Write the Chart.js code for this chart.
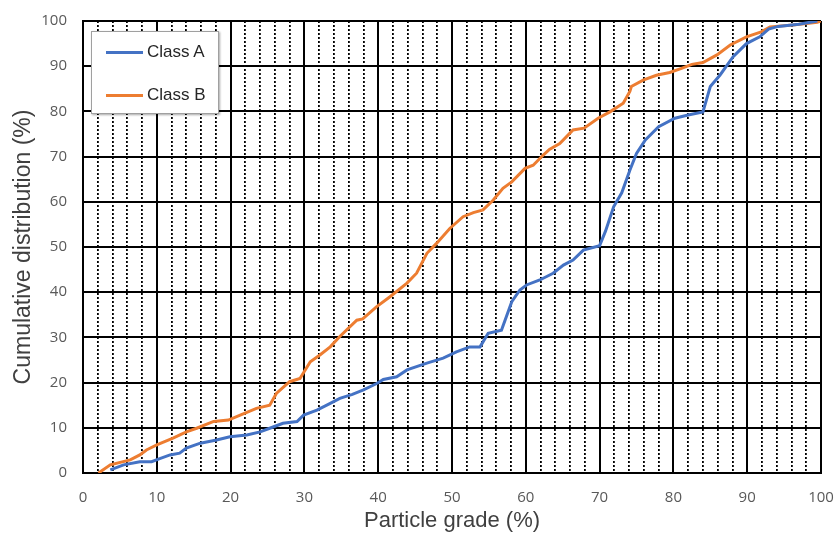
<!DOCTYPE html>
<html>
<head>
<meta charset="utf-8">
<title>Cumulative distribution by particle grade</title>
<script src="https://cdn.jsdelivr.net/npm/chart.js@4/dist/chart.umd.min.js"></script>
<style>
  html, body { margin: 0; padding: 0; background: #fff; }
  #wrap { position: relative; width: 837px; height: 534px; }
  #legend {
    position: absolute; left: 91px; top: 31px; width: 126px; height: 81px;
    background: #fff; border: 1px solid #a0a0a0;
    box-shadow: 1px 1px 2px rgba(0,0,0,0.35);
    font-family: "Liberation Sans", Arial, sans-serif; font-size: 17px; color: #262626;
  }
  #legend .row { position: absolute; left: 14px; height: 20px; display: flex; align-items: center; }
  #legend .swatch { width: 37px; height: 3px; margin-right: 4px; }
</style>
</head>
<body>
<div id="wrap">
  <canvas id="chart" width="837" height="534"></canvas>
  <div id="legend"></div>
</div>
<script>
// Class A: particle grade (%) vs cumulative distribution (%)
const classAGrade = [3.7, 5.5, 7.7, 9.3, 10.4, 11.8, 13.1, 14.0, 15.9, 18.1, 19.9, 22.2, 24.0, 25.3, 27.1, 29.0, 29.9, 31.7, 33.5, 34.8,
  36.5, 38.0, 39.8, 40.7, 42.5, 43.9, 46.6, 48.8, 50.6, 52.4, 53.8, 54.9, 56.7, 58.1, 59.2, 60.1, 61.9, 63.7, 65.1, 66.4,
  67.8, 70.0, 70.8, 71.9, 73.0, 74.1, 75.0, 76.2, 78.0, 80.2, 82.0, 84.0, 85.0, 86.3, 88.1, 89.9, 91.7, 92.9, 94.2, 97.0, 99.5];
const classACum = [0.7, 1.8, 2.5, 2.5, 3.2, 4.0, 4.4, 5.5, 6.6, 7.3, 8.0, 8.4, 9.1, 9.9, 11.0, 11.4, 12.8, 13.9, 15.4, 16.5,
  17.4, 18.4, 19.8, 20.7, 21.3, 22.8, 24.3, 25.4, 26.8, 27.9, 27.9, 30.9, 31.6, 37.9, 40.5, 41.6, 42.7, 44.2, 46.0, 47.1,
  49.3, 50.3, 53.5, 58.9, 62.0, 67.0, 70.7, 73.7, 76.6, 78.5, 79.2, 79.9, 85.5, 88.0, 92.1, 95.0, 96.5, 98.2, 98.8, 99.3, 100];

// Class B: particle grade (%) vs cumulative distribution (%)
const classBGrade = [2.1, 3.7, 6.4, 7.7, 8.6, 10.0, 12.2, 14.0, 15.4, 17.7, 19.7, 21.3, 23.5, 25.3, 26.2, 28.0, 29.4, 30.8, 32.1, 33.5,
  34.8, 37.1, 37.9, 39.8, 41.6, 43.9, 45.2, 46.6, 47.9, 49.7, 51.5, 52.9, 54.2, 55.6, 56.9, 58.1, 59.9, 61.0, 62.4, 63.2,
  64.6, 66.4, 67.9, 69.8, 71.4, 73.2, 74.1, 74.3, 75.9, 77.7, 79.5, 81.1, 82.5, 84.0, 85.9, 87.7, 89.9, 91.9, 93.1, 96.2, 99.5, 100];
const classBCum = [0.0, 1.8, 2.9, 4.0, 5.1, 6.2, 7.7, 9.1, 9.9, 11.4, 11.7, 12.8, 14.3, 15.0, 17.6, 20.2, 20.9, 24.6, 26.1, 27.9,
  30.2, 33.8, 34.1, 36.8, 39.0, 42.0, 44.2, 48.6, 50.8, 54.1, 56.7, 57.6, 58.2, 60.4, 63.0, 64.4, 67.4, 68.1, 70.4, 71.6,
  72.9, 75.9, 76.3, 78.5, 79.9, 81.8, 84.4, 85.5, 86.9, 88.0, 88.6, 89.5, 90.4, 90.8, 92.5, 94.7, 96.5, 97.6, 98.7, 99.1, 99.7, 100];

const seriesNames = ['Class A', 'Class B'];
const seriesColors = ['#4472C4', '#ED7D31'];
const xTickValues = [0, 10, 20, 30, 40, 50, 60, 70, 80, 90, 100];
const yTickValues = [0, 10, 20, 30, 40, 50, 60, 70, 80, 90, 100];
const xTitle = 'Particle grade (%)';
const yTitle = 'Cumulative distribution (%)';

const toPoints = (xs, ys) => xs.map((x, i) => ({ x: x, y: ys[i] }));
const isMajor = v => xTickValues.includes(Math.round(v * 1000) / 1000);

const tickFont = { family: '"Open Sans", "Noto Sans", sans-serif', size: 15 };
const titleFontX = { family: '"Liberation Sans", Arial, sans-serif', size: 22 };
const titleFontY = { family: '"Liberation Sans", Arial, sans-serif', size: 23 };

// Fixed axis box sizes; label overhang is kept out of the layout padding
function fixBox(scale, size) {
  if (scale.isHorizontal()) scale.height = size; else scale.width = size;
  scale.paddingLeft = 0; scale.paddingRight = 0;
  scale.paddingTop = 0; scale.paddingBottom = 0;
}

const chart = new Chart(document.getElementById('chart'), {
  type: 'line',
  data: {
    datasets: [
      { label: seriesNames[0], data: toPoints(classAGrade, classACum), borderColor: seriesColors[0], backgroundColor: seriesColors[0],
        borderWidth: 3, pointRadius: 0, tension: 0, fill: false },
      { label: seriesNames[1], data: toPoints(classBGrade, classBCum), borderColor: seriesColors[1], backgroundColor: seriesColors[1],
        borderWidth: 3, pointRadius: 0, tension: 0, fill: false }
    ]
  },
  options: {
    responsive: false,
    animation: false,
    devicePixelRatio: 1,
    layout: { padding: { top: 21, right: 16, left: 0, bottom: 0 } },
    plugins: { legend: { display: false }, tooltip: { enabled: false } },
    scales: {
      x: {
        type: 'linear', min: 0, max: 100,
        afterFit: s => fixBox(s, 61),
        ticks: {
          stepSize: 2, autoSkip: false, maxRotation: 0, padding: 16,
          font: tickFont, color: '#595959',
          callback: v => (isMajor(v) ? String(v) : '')
        },
        grid: {
          color: '#000', drawTicks: false,
          lineWidth: ctx => (ctx.tick && !isMajor(ctx.tick.value) ? 1.8 : 2)
        },
        border: {
          color: '#000', width: 2,
          dash: ctx => (ctx.tick && !isMajor(ctx.tick.value) ? [2, 2] : [])
        },
        title: { display: true, text: xTitle, font: titleFontX, color: '#404040', padding: { top: 0, bottom: 0 } }
      },
      y: {
        type: 'linear', min: 0, max: 100,
        afterFit: s => fixBox(s, 83),
        afterBuildTicks: s => { s.ticks = yTickValues.map(v => ({ value: v })); },
        ticks: { padding: 16, font: tickFont, color: '#595959' },
        grid: { color: '#000', lineWidth: 2, drawTicks: false },
        border: { color: '#000', width: 2 },
        title: { display: true, text: yTitle, font: titleFontY, color: '#404040', padding: { top: 10, bottom: 0 } }
      }
    }
  }
});

// Legend panel built from the chart's datasets
const legendEl = document.getElementById('legend');
chart.data.datasets.forEach((ds, i) => {
  const row = document.createElement('div');
  row.className = 'row';
  row.style.top = (i === 0 ? 10 : 53) + 'px';
  const sw = document.createElement('span');
  sw.className = 'swatch';
  sw.style.background = ds.borderColor;
  const label = document.createElement('span');
  label.textContent = ds.label;
  row.appendChild(sw);
  row.appendChild(label);
  legendEl.appendChild(row);
});
</script>
</body>
</html>
